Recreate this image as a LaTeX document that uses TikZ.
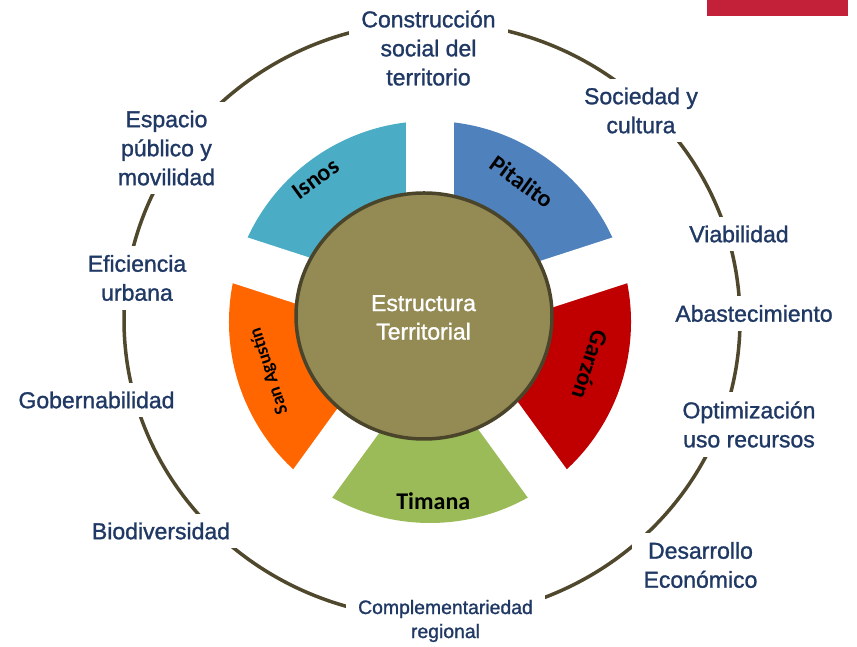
\documentclass[tikz,border=0pt]{standalone}
\usepackage{fontspec}
\setmainfont{Liberation Sans}
\newfontfamily\lblfont{Liberation Sans}[FakeBold=1.2]
\newfontfamily\carlito{Carlito}
\usetikzlibrary{shapes.geometric}
\definecolor{txt}{HTML}{1F3864}
\definecolor{isn}{HTML}{4BACC6}
\definecolor{pit}{HTML}{4F81BD}
\definecolor{gar}{HTML}{C00000}
\definecolor{tim}{HTML}{9BBB59}
\definecolor{san}{HTML}{FF6600}
\definecolor{corefill}{HTML}{948A54}
\definecolor{coreline}{HTML}{4A452A}
\definecolor{ringline}{HTML}{4F482D}
\definecolor{redbar}{HTML}{C3213A}
\tikzset{
  lbl/.style={fill=white, text=txt, align=center, inner xsep=12pt, inner ysep=9pt,
    font=\lblfont\fontsize{23}{29}\selectfont},
  lblsmall/.style={lbl, font=\lblfont\fontsize{19.4}{24}\selectfont},
  seclbl/.style={text=black, inner sep=0pt, font=\carlito\bfseries\fontsize{24}{28}\selectfont},
  ringstyle/.style={draw=ringline, line width=3.5pt},
  gapline/.style={draw=white, line width=48pt}
}
\begin{document}
\begin{tikzpicture}[x=1pt,y=1pt]
\useasboundingbox (0,0) rectangle (857,647);
\fill[redbar] (707,631) rectangle (848,647);
% outer ring
\draw[ringstyle] (432,327) ellipse [x radius=308, y radius=298];
% sectors
\coordinate (C) at (430,325);
\fill[pit] (C) -- ++(18:201) arc[start angle=18, end angle=90, radius=201] -- cycle;
\fill[gar] (C) -- ++(-54:201) arc[start angle=-54, end angle=18, radius=201] -- cycle;
\fill[tim] (C) -- ++(-126:201) arc[start angle=-126, end angle=-54, radius=201] -- cycle;
\fill[san] (C) -- ++(162:201) arc[start angle=162, end angle=234, radius=201] -- cycle;
\fill[isn] (C) -- ++(90:201) arc[start angle=90, end angle=162, radius=201] -- cycle;
\foreach \g in {90,18,-54,-126,162} \draw[gapline] (C) -- ++(\g:215);
% core
\node[ellipse, draw=coreline, fill=corefill, line width=3.5pt,
  minimum width=256pt, minimum height=246pt, inner sep=0pt] (core) at (424,331) {};
\node[text=white, align=center, font=\lblfont\fontsize{23}{28.5}\selectfont] (coretext) at (423.5,329.5)
  {Estructura\\Territorial};
% sector labels
\node[seclbl, rotate=36] (isnos) at (315.7,468) {Isnos};
\node[seclbl, rotate=-36] (pitalito) at (521.7,465.3) {Pitalito};
\node[seclbl, rotate=-108] (garzon) at (590,282) {Garzón};
\node[seclbl] (timana) at (433.3,146.3) {Timana};
\node[seclbl, rotate=108, font=\carlito\bfseries\fontsize{18.5}{22}\selectfont] (sanagustin) at (269.3,276) {San Agustín};
% outer labels
\node[lbl] (l1) at (428.5,599) {Construcción\\social del\\territorio};
\node[lbl] (l2) at (641,536.5) {Sociedad y\\cultura};
\node[lbl] (l3) at (739,413) {Viabilidad};
\node[lbl] (l4) at (754,333.5) {Abastecimiento};
\node[lbl] (l5) at (749,222.5) {Optimización\\uso recursos};
\node[lbl] (l6) at (700.5,82) {Desarrollo\\Económico};
\node[lblsmall] (l7) at (445.5,26) {Complementariedad\\regional};
\node[lbl] (l8) at (161,116) {Biodiversidad};
\node[lbl] (l9) at (96.5,247) {Gobernabilidad};
\node[lbl] (l10) at (137,369) {Eficiencia\\urbana};
\node[lbl] (l11) at (166.5,499) {Espacio\\público y\\movilidad};
\end{tikzpicture}
\end{document}
